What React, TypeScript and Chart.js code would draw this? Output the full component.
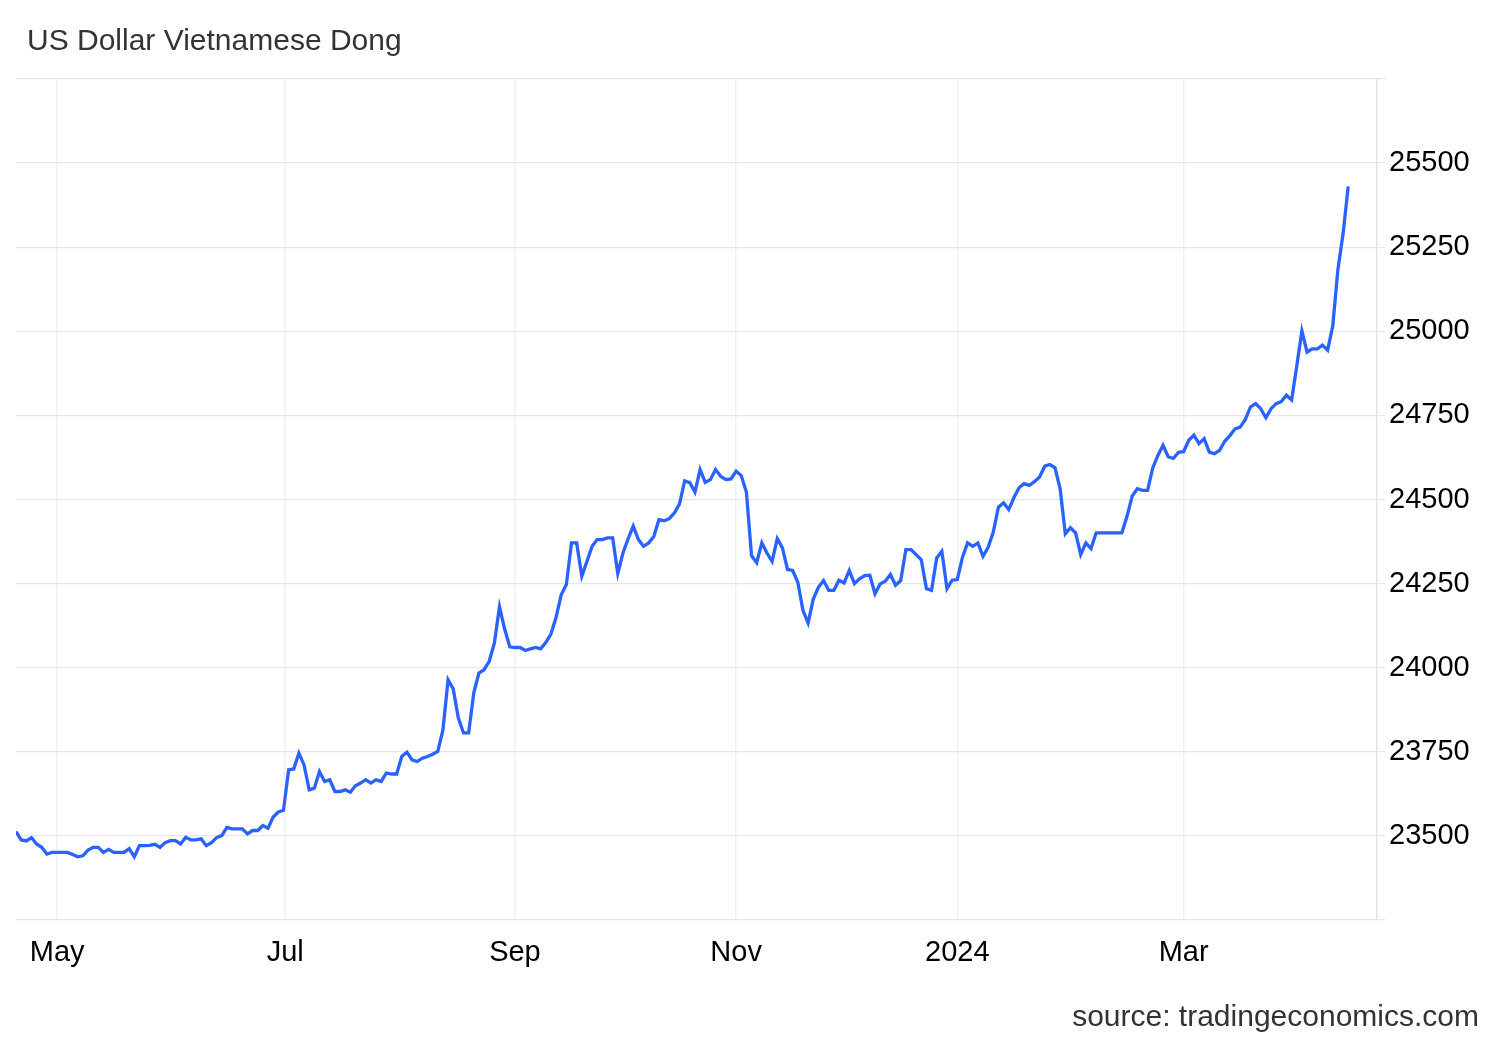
import React, { useEffect, useRef } from 'react';
import { Chart, registerables } from 'chart.js';

Chart.register(...registerables);

const TITLE = 'US Dollar Vietnamese Dong';
const SOURCE = 'source: tradingeconomics.com';

// first trading day shown (one value per business day)
const START_DATE = '2023-04-19';

const USD_VND = [
  23513, 23488, 23485, 23495, 23476, 23466, 23446, 23451, 23451, 23451,
  23451, 23445, 23438, 23441, 23458, 23466, 23466, 23451, 23460, 23451,
  23451, 23451, 23462, 23438, 23471, 23471, 23472, 23475, 23466, 23480,
  23486, 23486, 23476, 23496, 23488, 23488, 23491, 23471, 23480, 23495,
  23501, 23525, 23521, 23521, 23521, 23506, 23516, 23516, 23531, 23523,
  23556, 23571, 23576, 23696, 23699, 23746, 23711, 23637, 23642, 23691,
  23662, 23667, 23632, 23632, 23637, 23630, 23649, 23657, 23667, 23657,
  23667, 23662, 23687, 23684, 23684, 23736, 23749, 23726, 23721, 23731,
  23736, 23743, 23751, 23815, 23964, 23937, 23850, 23806, 23806, 23925,
  23984, 23994, 24019, 24073, 24181, 24115, 24062, 24060, 24060, 24051,
  24056, 24060, 24056, 24075, 24100, 24150, 24217, 24247, 24371, 24371,
  24272, 24316, 24361, 24381, 24381, 24386, 24386, 24280, 24341, 24383,
  24421, 24381, 24361, 24371, 24390, 24440, 24437, 24443, 24460, 24487,
  24555, 24550, 24522, 24589, 24551, 24559, 24589, 24569, 24559, 24561,
  24584, 24571, 24522, 24333, 24312, 24371, 24341, 24316, 24384, 24356,
  24292, 24289, 24254, 24170, 24133, 24204, 24239, 24259, 24230, 24230,
  24260, 24252, 24289, 24250, 24264, 24274, 24275, 24220, 24249, 24257,
  24277, 24245, 24259, 24351, 24351, 24336, 24321, 24235, 24230, 24326,
  24346, 24235, 24260, 24262, 24328, 24371, 24361, 24371, 24331, 24358,
  24403, 24477, 24490, 24470, 24505, 24535, 24547, 24542, 24553, 24567,
  24599, 24604, 24594, 24532, 24398, 24416, 24401, 24336, 24371, 24354,
  24401, 24401, 24401, 24401, 24401, 24401, 24450, 24510, 24532, 24527,
  24527, 24594, 24631, 24661, 24627, 24622, 24640, 24642, 24676, 24691,
  24666, 24681, 24641, 24636, 24646, 24673, 24690, 24710, 24715, 24738,
  24775, 24785, 24770, 24743, 24770, 24785, 24791, 24810, 24796, 24897,
  25001, 24938, 24948, 24948, 24959, 24944, 25016, 25184, 25289, 25431,
];

const X_TICK_DATES = ['2023-05-01', '2023-07-01', '2023-09-01', '2023-11-01', '2024-01-01', '2024-03-01'];
const X_TICK_LABELS = ['May', 'Jul', 'Sep', 'Nov', '2024', 'Mar'];

const Y_MIN = 23250;
const Y_MAX = 25750;
const Y_STEP = 250;
const Y_TICK_LABELS = [23500, 23750, 24000, 24250, 24500, 24750, 25000, 25250, 25500];

const FONT = '"Liberation Sans", Arial, Helvetica, sans-serif';
const LINE_COLOR = '#2962ff';

const DAY = 86400000;
const toMs = (s: string) => Date.parse(s + 'T00:00:00Z');
const isBusiness = (t: number) => {
  const d = new Date(t).getUTCDay();
  return d !== 0 && d !== 6;
};
// position of a calendar date on the business-day index axis
function businessIndex(dateStr: string): number {
  const target = toMs(dateStr);
  let idx = -1;
  let lastBd = toMs(START_DATE);
  for (let t = toMs(START_DATE); t <= target; t += DAY) {
    if (isBusiness(t)) {
      idx++;
      lastBd = t;
    }
  }
  if (lastBd === target) return idx;
  let next = target + DAY;
  while (!isBusiness(next)) next += DAY;
  return idx + (target - lastBd) / (next - lastBd);
}

export default function App() {
  const ref = useRef<HTMLCanvasElement | null>(null);

  useEffect(() => {
    if (!ref.current) return;
    const tickPos = X_TICK_DATES.map(businessIndex);
    const chart = new Chart(ref.current, {
      type: 'line',
      data: {
        datasets: [
          {
            data: USD_VND.map((v, i) => ({ x: i, y: v })),
            borderColor: LINE_COLOR,
            borderWidth: 3.3,
            pointRadius: 0,
            tension: 0,
            fill: false,
          },
        ],
      },
      options: {
        animation: false,
        responsive: false,
        maintainAspectRatio: false,
        layout: { padding: { left: 16, top: 79, right: 0, bottom: 0 } },
        plugins: { legend: { display: false }, tooltip: { enabled: false }, title: { display: false } },
        scales: {
          x: {
            type: 'linear',
            position: 'bottom',
            min: 0,
            max: USD_VND.length - 1 + 5.6,
            afterBuildTicks: (scale: any) => {
              scale.ticks = tickPos.map((v) => ({ value: v }));
            },
            afterFit: (scale: any) => {
              scale.height = 120;
            },
            ticks: {
              autoSkip: false,
              maxRotation: 0,
              padding: 15.5,
              color: '#000',
              font: { size: 29, family: FONT },
              callback: (_v: any, i: number) => X_TICK_LABELS[i],
            },
            grid: { color: '#eef1f6', lineWidth: 1.5, drawTicks: false },
            border: { display: false },
          },
          y: {
            position: 'right',
            min: Y_MIN,
            max: Y_MAX,
            afterFit: (scale: any) => {
              scale.width = 123;
            },
            ticks: {
              stepSize: Y_STEP,
              padding: 4,
              color: '#000',
              font: { size: 29, family: FONT },
              callback: (v: any) => (Y_TICK_LABELS.includes(Number(v)) ? String(v) : ''),
            },
            grid: { color: '#e6e6e6', lineWidth: 1.2, tickLength: 8 },
            border: { display: true, color: '#e3e3e3', width: 1.5 },
          },
        },
      },
    });
    return () => chart.destroy();
  }, []);

  return (
    <div style={{ position: 'fixed', left: 0, top: 0, width: 1500, height: 1040, background: '#fff', fontFamily: FONT }}>
      <canvas ref={ref} width={1500} height={1040} style={{ position: 'absolute', left: 0, top: 0, width: 1500, height: 1040 }} />
      <div style={{ position: 'absolute', left: 27, top: 25, fontSize: 30, lineHeight: '30px', color: '#333', whiteSpace: 'nowrap' }}>
        {TITLE}
      </div>
      <div style={{ position: 'absolute', right: 21, top: 1001, fontSize: 30, lineHeight: '30px', color: '#333', whiteSpace: 'nowrap' }}>
        {SOURCE}
      </div>
    </div>
  );
}
